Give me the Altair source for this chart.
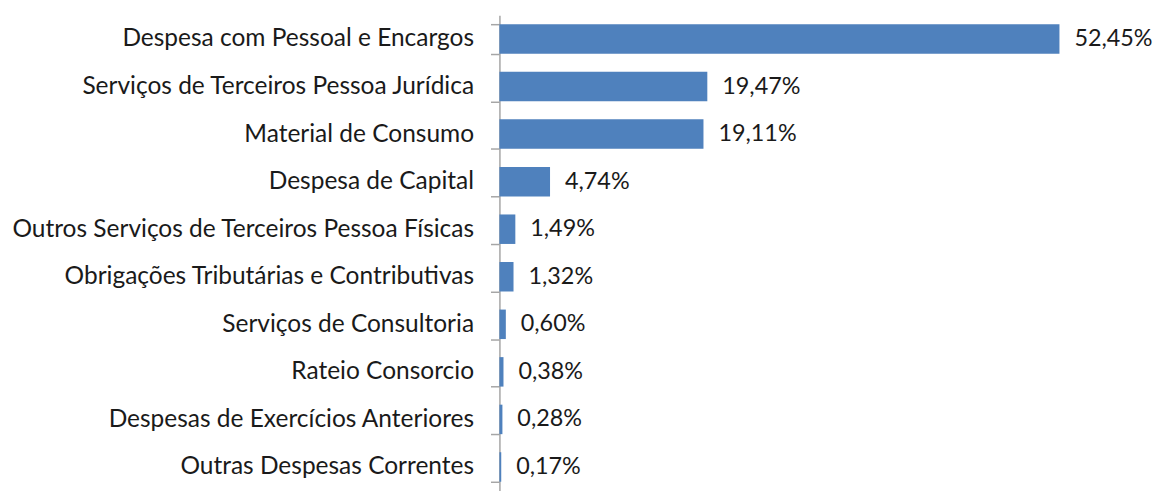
import altair as alt
import pandas as pd

categories = [
    "Despesa com Pessoal e Encargos",
    "Serviços de Terceiros Pessoa Jurídica",
    "Material de Consumo",
    "Despesa de Capital",
    "Outros Serviços de Terceiros Pessoa Físicas",
    "Obrigações Tributárias e Contributivas",
    "Serviços de Consultoria",
    "Rateio Consorcio ",
    "Despesas de Exercícios Anteriores",
    "Outras Despesas Correntes",
]
values = [52.45, 19.47, 19.11, 4.74, 1.49, 1.32, 0.60, 0.38, 0.28, 0.17]
labels = ["52,45%", "19,47%", "19,11%", "4,74%", "1,49%", "1,32%", "0,60%", "0,38%", "0,28%", "0,17%"]

df = pd.DataFrame({"cat": categories, "val": values, "lab": labels})

FONT = "Lato"
FS = 24.6

y = alt.Y("cat:N", sort=categories, title=None,
          scale=alt.Scale(paddingInner=0.38, paddingOuter=0.19),
          axis=alt.Axis(tickBand="extent", tickSize=9, tickColor="#a6a6a6",
                        domainColor="#a6a6a6", domainWidth=1.5, tickWidth=1.5,
                        labelPadding=17, labelFontSize=FS, labelFont=FONT,
                        labelColor="#1a1a1a", labelLimit=600, grid=False))
x = alt.X("val:Q", title=None, scale=alt.Scale(domain=[0, 60]), axis=None)

bars = alt.Chart(df).mark_bar(color="#4f81bd").encode(x=x, y=y)
text = alt.Chart(df).mark_text(align="left", dx=15, fontSize=23.5, font=FONT,
                               color="#1a1a1a").encode(x=x, y=y, text="lab:N")

chart = (bars + text).properties(
    width=644, height=478,
    padding={"left": 494, "top": 6, "right": 13, "bottom": 0},
    autosize=alt.AutoSizeParams(type="none"),
).configure_view(stroke=None)

chart.save("out.html", embed_options={"renderer": "svg", "actions": False})
